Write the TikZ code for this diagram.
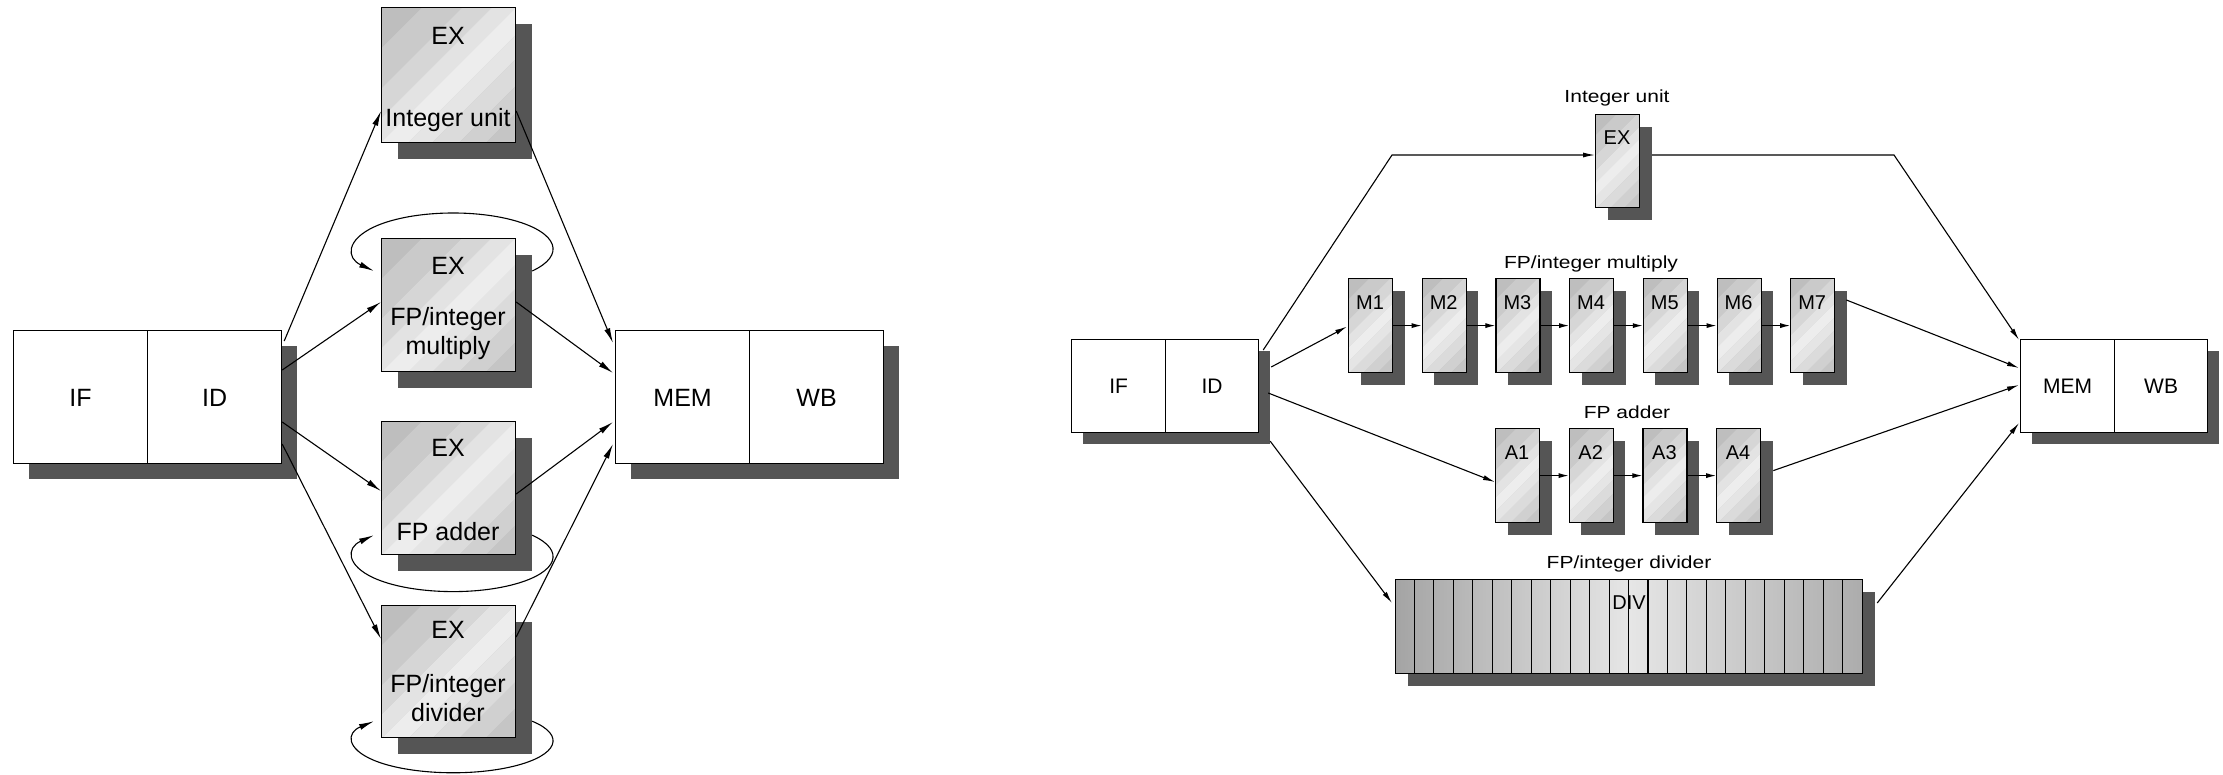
\documentclass[tikz,border=0pt]{standalone}
\usepackage{fontspec}
\setmainfont{Liberation Sans}
\usetikzlibrary{arrows.meta,shadows,calc}
\definecolor{shadowc}{HTML}{555555}
\definecolor{s1}{HTML}{BEBEBE}
\definecolor{s2}{HTML}{CACACA}
\definecolor{s3}{HTML}{D6D6D6}
\definecolor{s4}{HTML}{E3E3E3}
\definecolor{s5}{HTML}{EDEDED}
\definecolor{s6}{HTML}{E5E5E5}
\definecolor{s7}{HTML}{DBDBDB}
\definecolor{s8}{HTML}{D0D0D0}
\definecolor{s9}{HTML}{C5C5C5}
\definecolor{dA}{HTML}{A4A4A4}
\definecolor{dB}{HTML}{E6E6E6}
\definecolor{dC}{HTML}{ACACAC}
\pgfdeclarehorizontalshading{divshade}{100bp}{color(0bp)=(dA); color(25bp)=(dA); color(50bp)=(dB); color(75bp)=(dC); color(100bp)=(dC)}
\newcommand\stripefill{%
  \pgfpointanchor{path picture bounding box}{north west}\pgfgetlastxy{\stXa}{\stYa}%
  \pgfpointanchor{path picture bounding box}{south east}\pgfgetlastxy{\stXb}{\stYb}%
  \pgfmathsetmacro\stD{(\stXb-\stXa)+(\stYa-\stYb)}%
  \foreach \fa/\fb/\fc in {0.15/0.30/s2, 0.30/0.41/s3, 0.41/0.50/s4, 0.50/0.60/s5, 0.60/0.69/s6, 0.69/0.79/s7, 0.79/0.89/s8, 0.89/1.02/s9}{%
    \pgfmathsetmacro\ca{\fa*\stD}%
    \pgfmathsetmacro\cb{\fb*\stD}%
    \fill[\fc] ($(path picture bounding box.north west)+(\ca,0)$) -- ($(path picture bounding box.north west)+(\cb,0)$) -- ++(-500,500) -- ($(path picture bounding box.north west)+(\ca-500,500)$) -- cycle;
  }%
}
\begin{document}
\begin{tikzpicture}[x=1pt,y=-1pt,
 bx/.style={rectangle, draw=black, line width=1.2pt, inner sep=0pt, anchor=north west},
 wbox/.style={bx, fill=white},
 sh/.style={rectangle, fill=shadowc, inner sep=0pt, anchor=north west},
 stripebox/.style={bx, fill=s1, path picture={\stripefill}},
 exL/.style={stripebox, minimum width=134pt, minimum height=134pt, drop shadow={shadow xshift=16pt, shadow yshift=-16pt, opacity=1, fill=shadowc}},
 exR/.style={stripebox, minimum width=44pt, minimum height=94pt, drop shadow={shadow xshift=12pt, shadow yshift=-12pt, opacity=1, fill=shadowc}},
 tL/.style={font=\fontsize{25}{30}\selectfont, inner sep=0pt, text height=18pt, text depth=0pt},
 tR/.style={font=\fontsize{20}{24}\selectfont, inner sep=0pt, text height=14.3pt, text depth=0pt},
 tRB/.style={font=\fontsize{21}{25}\selectfont, inner sep=0pt, text height=15pt, text depth=0pt},
 tRL/.style={font=\fontsize{17.5}{21}\selectfont, inner sep=0pt, text height=12.5pt, text depth=0pt},
 arL/.style={line width=1.1pt, -{Latex[length=15pt,width=6pt]}},
 arR/.style={line width=1.1pt, -{Latex[length=12pt,width=5pt]}},
 arS/.style={line width=1.1pt, -{Latex[length=10pt,width=5pt]}}
]
\useasboundingbox (0,0) rectangle (2223,774);

% ---------------- Left diagram ----------------
\node[sh, minimum width=268pt, minimum height=133pt] (lifsh) at (29,346) {};
\node[wbox, minimum width=134pt, minimum height=133pt, tL] (lIF) at (13,330) {IF};
\node[wbox, minimum width=134pt, minimum height=133pt, tL] (lID) at (147,330) {ID};
\node[sh, minimum width=268pt, minimum height=133pt] (lmemsh) at (631,346) {};
\node[wbox, minimum width=134pt, minimum height=133pt, tL] (lMEM) at (615,330) {MEM};
\node[wbox, minimum width=134pt, minimum height=133pt, tL] (lWB) at (749,330) {WB};

\node[exL, minimum height=135pt] (lint) at (381,7) {};
\node[tL] (lintA) at (448,35) {EX};
\node[tL] (lintB) at (448,117) {Integer unit};

\node[exL, minimum height=133pt] (lmul) at (381,238) {};
\node[tL] (lmulA) at (448,265) {EX};
\node[tL] (lmulB) at (448,316) {FP/integer};
\node[tL] (lmulC) at (448,345) {multiply};

\node[exL, minimum height=133pt] (ladd) at (381,421) {};
\node[tL] (laddA) at (448,447) {EX};
\node[tL] (laddB) at (448,531) {FP adder};

\node[exL, minimum height=132pt] (ldiv) at (381,605) {};
\node[tL] (ldivA) at (448,629) {EX};
\node[tL] (ldivB) at (448,683) {FP/integer};
\node[tL] (ldivC) at (448,712) {divider};

\draw[arL] ($(lID.north east)+(2,11)$) -- ($(lint.north west)+(0,104)$);
\draw[arL] ($(lID.north east)+(0,40)$) -- ($(lmul.north west)+(0,64)$);
\draw[arL] ($(lID.north east)+(0,92)$) -- ($(ladd.north west)+(0,70)$);
\draw[arL] ($(lID.north east)+(0,114)$) -- ($(ldiv.north west)+(0,34)$);
\draw[arL] ($(lint.north east)+(0,104)$) -- ($(lMEM.north west)+(-2,13)$);
\draw[arL] ($(lmul.north east)+(0,64)$) -- ($(lMEM.north west)+(-2,43)$);
\draw[arL] ($(ladd.north east)+(0,73)$) -- ($(lMEM.north west)+(-2,92)$);
\draw[arL] ($(ldiv.north east)+(0,32)$) -- ($(lMEM.north west)+(-2,114)$);

\draw[arL] ($(lmul.north east)+(16,33)$) arc[start angle=37.7, end angle=-217.7, x radius=100, y radius=36];
\draw[arL] ($(ladd.south east)+(16,-20)$) arc[start angle=-37.7, end angle=217.7, x radius=100, y radius=35];
\draw[arL] ($(ldiv.south east)+(16,-17)$) arc[start angle=-37.7, end angle=217.7, x radius=100, y radius=32];

% ---------------- Right diagram ----------------
\node[sh, minimum width=187pt, minimum height=93pt] (rifsh) at (1083,351) {};
\node[wbox, minimum width=94pt, minimum height=93pt, tRB] (rIF) at (1071,339) {IF};
\node[wbox, minimum width=93pt, minimum height=93pt, tRB] (rID) at (1165,339) {ID};
\node[sh, minimum width=187pt, minimum height=93pt] (rmemsh) at (2032,351) {};
\node[wbox, minimum width=94pt, minimum height=93pt, tRB] (rMEM) at (2020,339) {MEM};
\node[wbox, minimum width=93pt, minimum height=93pt, tRB] (rWB) at (2114,339) {WB};

\node[exR, minimum height=93pt] (rEX) at (1595,114) {};
\node[tR] (rEXt) at (1617,137) {EX};
\node[tRL] (rintL) at (1617,96) {\scalebox{1.2}[1]{Integer unit}};

\node[tRL] (rmulL) at (1591,262) {\scalebox{1.2}[1]{FP/integer multiply}};
\foreach \i in {1,...,7} {
  \node[exR] (M\i) at ({1348+73.7*(\i-1)},278) {};
  \node[tR] (M\i t) at ({1370+73.7*(\i-1)},302) {M\i};
}
\foreach \i/\j in {1/2,2/3,3/4,4/5,5/6,6/7}
  \draw[arS] (M\i.east) -- (M\j.west);

\node[tRL] (raddL) at (1627,412) {\scalebox{1.2}[1]{FP adder}};
\foreach \i in {1,...,4} {
  \node[exR] (A\i) at ({1495+73.7*(\i-1)},428) {};
  \node[tR] (A\i t) at ({1517+73.7*(\i-1)},452) {A\i};
}
\foreach \i/\j in {1/2,2/3,3/4}
  \draw[arS] (A\i.east) -- (A\j.west);

\node[tRL] (rdivL) at (1629,562) {\scalebox{1.2}[1]{FP/integer divider}};
\node[bx, shading=divshade, minimum width=467pt, minimum height=94pt, drop shadow={shadow xshift=12pt, shadow yshift=-12pt, opacity=1, fill=shadowc}] (DIV) at (1395,579) {};
\foreach \k in {1,...,23}
  \draw[line width=1.1pt] ($(DIV.north west)+(\k*19.458,0)$) -- ++(0,94);
\node[tR] (DIVt) at (1629,602) {DIV};

\coordinate (k1) at (1392,155);
\coordinate (k2) at (1894,155);
\draw[arR] ($(rID.north east)+(4,11)$) -- (k1) -- (rEX.west |- k1);
\draw[arR] ($(rEX.east |- k2)+(12,0)$) -- (k2) -- ($(rMEM.north west)+(-1,1)$);
\draw[arR] ($(rID.north east)+(12,28)$) -- ($(M1.west)+(-1,1)$);
\draw[arR] ($(M7.north east)+(11,22)$) -- ($(rMEM.north west)+(-1,29)$);
\draw[arR] ($(rID.north east)+(9,54)$) -- ($(A1.north west)+(0,54)$);
\draw[arR] ($(A4.east)+(12,-5)$) -- ($(rMEM.north west)+(-1,46)$);
\draw[arR] ($(rID.south east)+(11,8)$) -- ($(DIV.north west)+(-3,24)$);
\draw[arR] ($(DIV.north east)+(14,24)$) -- ($(rMEM.north west)+(-1,84)$);
\end{tikzpicture}
\end{document}
